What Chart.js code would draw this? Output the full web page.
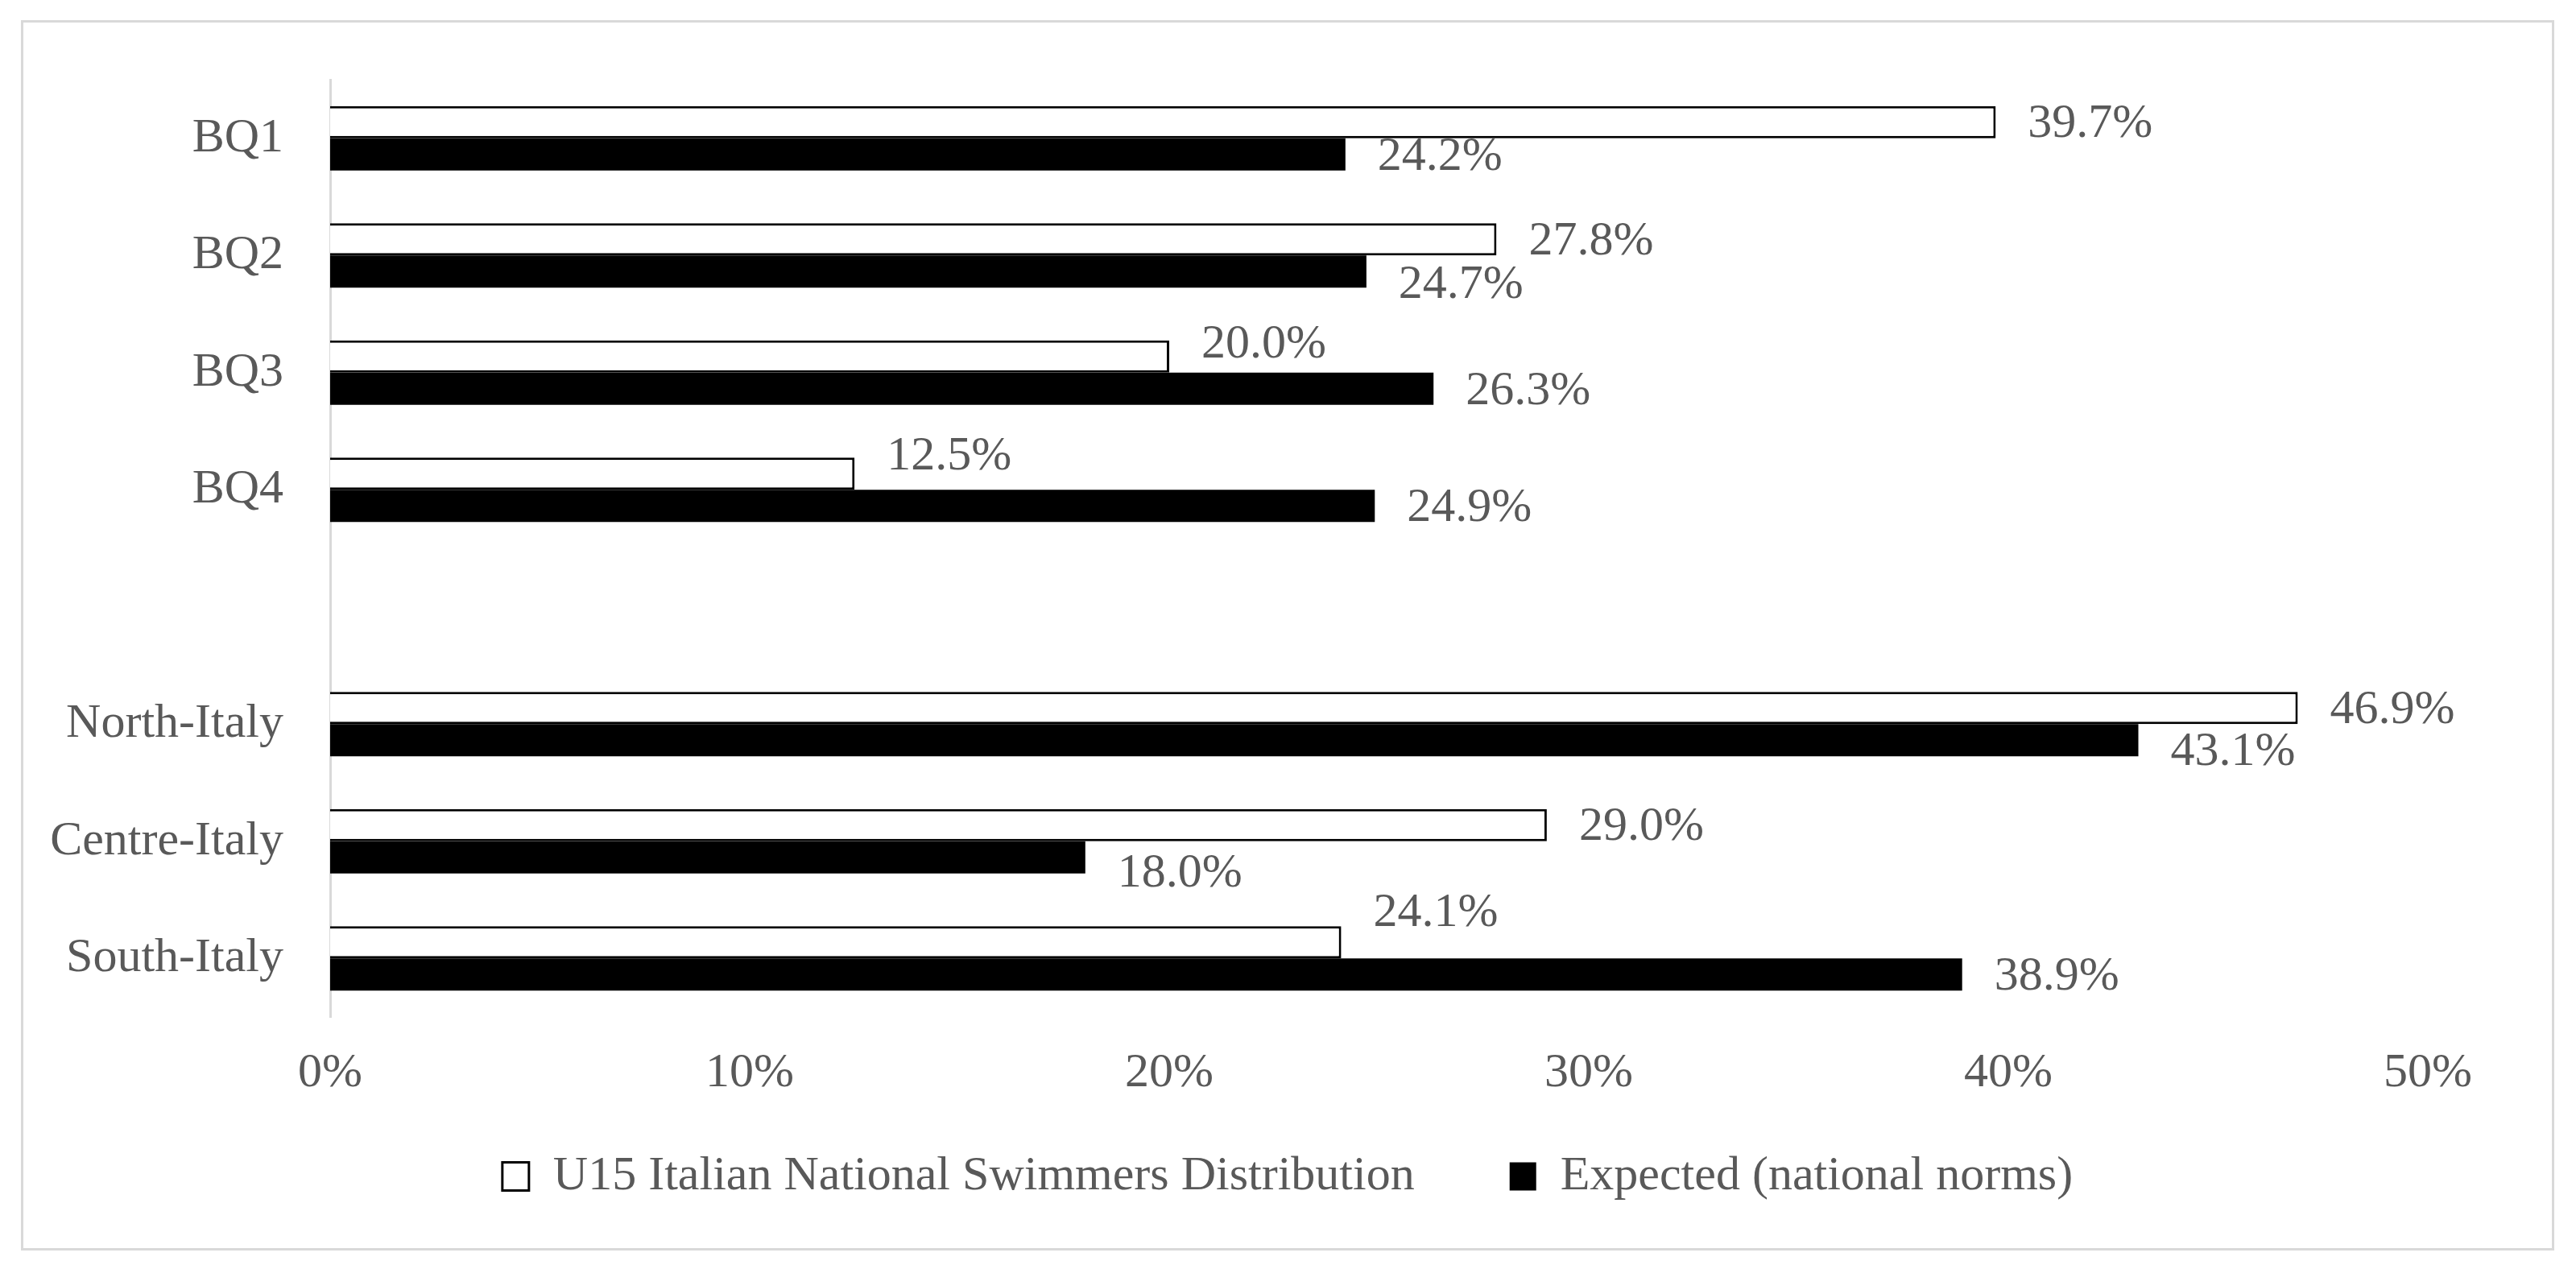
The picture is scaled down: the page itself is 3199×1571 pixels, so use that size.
<!DOCTYPE html>
<html>
<head>
<meta charset="utf-8">
<title>U15 Italian National Swimmers Distribution</title>
<script src="https://cdn.jsdelivr.net/npm/chart.js@4.4.8/dist/chart.umd.min.js"></script>
<style>
    html, body { margin: 0; padding: 0; background: #ffffff; }
    #frame {
        position: absolute;
        left: 26px;
        top: 25px;
        width: 3146px;
        height: 1528px;
        border: 3px solid #d9d9d9;
        box-sizing: border-box;
    }
    #chart { display: block; }
</style>
</head>
<body>
<div id="frame"><canvas id="chart" width="3140" height="1522"></canvas></div>
<script>
/*  Data  */

const categories = ['BQ1', 'BQ2', 'BQ3', 'BQ4', '', 'North-Italy', 'Centre-Italy', 'South-Italy'];
const swimmers = [39.7, 27.8, 20.0, 12.5, null, 46.9, 29.0, 24.1];
const expected = [24.2, 24.7, 26.3, 24.9, null, 43.1, 18.0, 38.9];
const xTicks = [0, 10, 20, 30, 40, 50];
const seriesNames = ['U15 Italian National Swimmers Distribution', 'Expected (national norms)'];

/*  Label nudges (px, + is down), the labels were moved by hand in the original  */

const swimmersNudge = [0, 0, -17, -24, 0, 0, 0, -39];
const expectedNudge = [0, 14, 0, 0, 0, 12, 17, 0];


/*  Setup  */

const FONT = '"Liberation Serif", "Times New Roman", serif';
const TEXT = '#595959';
const LEGEND_LIFT = 56;

Chart.defaults.font.family = FONT;
Chart.defaults.font.size = 60;
Chart.defaults.color = TEXT;


/*  Plugins  */

const valueLabels = {
    id: 'valueLabels',
    afterDatasetsDraw(chart) {
        /* Write the percentage to the right of every bar */
        const ctx = chart.ctx;
        const nudges = [swimmersNudge, expectedNudge];
        ctx.save();
        ctx.font = '60px ' + FONT;
        ctx.fillStyle = TEXT;
        ctx.textAlign = 'left';
        ctx.textBaseline = 'middle';
        chart.data.datasets.forEach((ds, i) => {
            chart.getDatasetMeta(i).data.forEach((bar, j) => {
                const v = ds.data[j];
                if (v == null) return;
                ctx.fillText(v.toFixed(1) + '%', bar.x + 40, bar.y + 3 + nudges[i][j]);
            });
        });
        ctx.restore();
    }
};

const placeLegend = {
    id: 'placeLegend',
    afterLayout(chart) {
        /* Centre the legend on the whole canvas and pull it closer to the axis */
        const lg = chart.legend;
        lg.left = 0;
        lg.right = chart.width;
        lg.top -= LEGEND_LIFT;
        lg.bottom -= LEGEND_LIFT;
    }
};


/*  Chart  */

const chart = new Chart(document.getElementById('chart'), {
    type: 'bar',
    data: {
        labels: categories,
        datasets: [{
            label: seriesNames[0],
            data: swimmers,
            backgroundColor: '#ffffff',
            borderColor: '#000000',
            borderWidth: 3,
            categoryPercentage: 0.55,
            barPercentage: 1
        }, {
            label: seriesNames[1],
            data: expected,
            backgroundColor: '#000000',
            borderColor: '#000000',
            borderWidth: 0,
            categoryPercentage: 0.55,
            barPercentage: 1
        }]
    },
    options: {
        indexAxis: 'y',
        responsive: false,
        animation: false,
        layout: {
            padding: { left: 20, right: 154, top: 71, bottom: -7 }
        },
        scales: {
            x: {
                min: 0,
                max: 50,
                grid: { display: false, drawTicks: false },
                border: { display: false },
                afterBuildTicks(scale) {
                    scale.ticks = xTicks.map(v => ({ value: v }));
                },
                afterFit(scale) {
                    scale.height = 106;
                },
                ticks: {
                    padding: 34,
                    maxRotation: 0,
                    callback: v => v + '%'
                }
            },
            y: {
                grid: { display: false, drawTicks: false },
                border: { display: true, color: '#d9d9d9', width: 3 },
                afterFit(scale) {
                    scale.width = 361;
                    scale.paddingTop = 0;
                    scale.paddingBottom = 0;
                },
                ticks: {
                    padding: 58
                }
            }
        },
        plugins: {
            legend: {
                position: 'bottom',
                labels: {
                    boxWidth: 33,
                    boxHeight: 35,
                    padding: 118,
                    color: TEXT,
                    font: { size: 60, family: FONT }
                }
            },
            tooltip: { enabled: false }
        }
    },
    plugins: [valueLabels, placeLegend]
});
</script>
</body>
</html>
